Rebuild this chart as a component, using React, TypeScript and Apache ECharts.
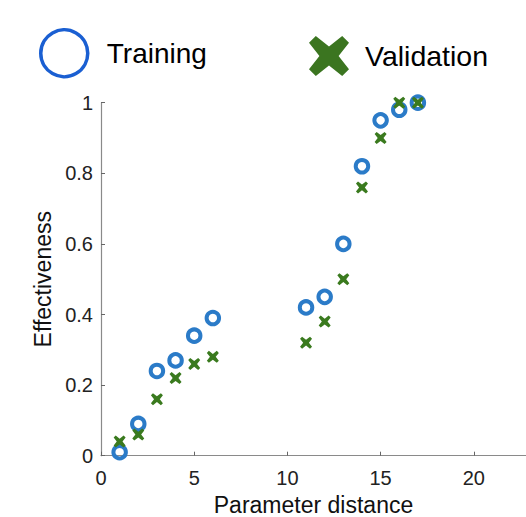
import React, { useEffect, useRef } from "react";
import * as echarts from "echarts";

const trainingX = [1, 2, 3, 4, 5, 6, 11, 12, 13, 14, 15, 16, 17];
const trainingY = [0.01, 0.09, 0.24, 0.27, 0.34, 0.39, 0.42, 0.45, 0.6, 0.82, 0.95, 0.98, 1.0];
const validationX = [1, 2, 3, 4, 5, 6, 11, 12, 13, 14, 15, 16, 17];
const validationY = [0.04, 0.06, 0.16, 0.22, 0.26, 0.28, 0.32, 0.38, 0.5, 0.76, 0.9, 1.0, 1.0];
const seriesNames = ["Training", "Validation"];
const xTicks = [0, 5, 10, 15, 20];

const CROSS =
  "path://M0,1.7L1.7,0L5,2.6L8.3,0L10,1.7L7.4,5L10,8.3L8.3,10L5,7.4L1.7,10L0,8.3L2.6,5Z";

export default function App() {
  const ref = useRef<HTMLDivElement>(null);
  useEffect(() => {
    if (!ref.current) return;
    const chart = echarts.init(ref.current, undefined, { renderer: "svg" });
    const font = "Liberation Sans, Arial, Helvetica, sans-serif";
    chart.setOption({
      animation: false,
      backgroundColor: "#ffffff",
      textStyle: { fontFamily: font },
      legend: [
        {
          data: [{ name: seriesNames[0], icon: "circle", itemStyle: { color: "transparent", borderColor: "#1a5fd2", borderWidth: 3.5 } }],
          left: 34,
          top: 23,
          itemWidth: 53,
          itemHeight: 47,
          itemGap: 0,
          selectedMode: false,
          textStyle: { fontSize: 28, color: "#000", padding: [12, 0, 0, 11], fontFamily: font },
        },
        {
          data: [{ name: seriesNames[1], icon: CROSS, itemStyle: { color: "#3b7520", borderWidth: 0 } }],
          left: 304,
          top: 31,
          itemWidth: 40,
          itemHeight: 40,
          itemGap: 0,
          selectedMode: false,
          textStyle: { fontSize: 28.5, color: "#000", padding: [6, 0, 0, 11], fontFamily: font },
        },
      ],
      grid: { left: 101, top: 102.7, right: 0, bottom: 61.3, containLabel: false, outerBoundsMode: "none" },
      xAxis: {
        type: "value",
        min: 0,
        max: 22.8,
        interval: 5,
        name: "Parameter distance",
        nameLocation: "middle",
        nameGap: 38,
        nameTextStyle: { fontSize: 23, color: "#111", fontFamily: font },
        axisLine: { show: true, lineStyle: { color: "#8a8a8a", width: 1.2 } },
        axisTick: { show: true, inside: true, length: 4, lineStyle: { color: "#666" } },
        axisLabel: {
          fontSize: 20,
          color: "#222",
          margin: 12,
          fontFamily: font,
          formatter: (v: number) => (xTicks.includes(v) ? String(v) : ""),
        },
        splitLine: { show: false },
      },
      yAxis: {
        type: "value",
        min: 0,
        max: 1,
        interval: 0.2,
        name: "Effectiveness",
        nameLocation: "middle",
        nameGap: 44,
        nameTextStyle: { fontSize: 23, color: "#111", fontFamily: font },
        axisLine: { show: true, lineStyle: { color: "#8a8a8a", width: 1.2 } },
        axisTick: { show: true, inside: true, length: 4, lineStyle: { color: "#666" } },
        axisLabel: {
          fontSize: 20,
          color: "#222",
          margin: 8,
          fontFamily: font,
          formatter: (v: number) => String(Math.round(v * 10) / 10),
        },
        splitLine: { show: false },
      },
      series: [
        {
          name: seriesNames[0],
          type: "scatter",
          data: trainingX.map((x, i) => [x, trainingY[i]]),
          symbol: "circle",
          symbolSize: 12.5,
          itemStyle: { color: "transparent", borderColor: "#2b7bc8", borderWidth: 4, opacity: 1 },
          z: 2,
        },
        {
          name: seriesNames[1],
          type: "scatter",
          data: validationX.map((x, i) => [x, validationY[i]]),
          symbol: CROSS,
          symbolSize: 12,
          itemStyle: { color: "#3a7a1e", opacity: 1 },
          z: 3,
        },
      ],
    });
    return () => chart.dispose();
  }, []);
  return <div ref={ref} style={{ width: 526, height: 517, position: "absolute", left: 0, top: 0 }} />;
}
